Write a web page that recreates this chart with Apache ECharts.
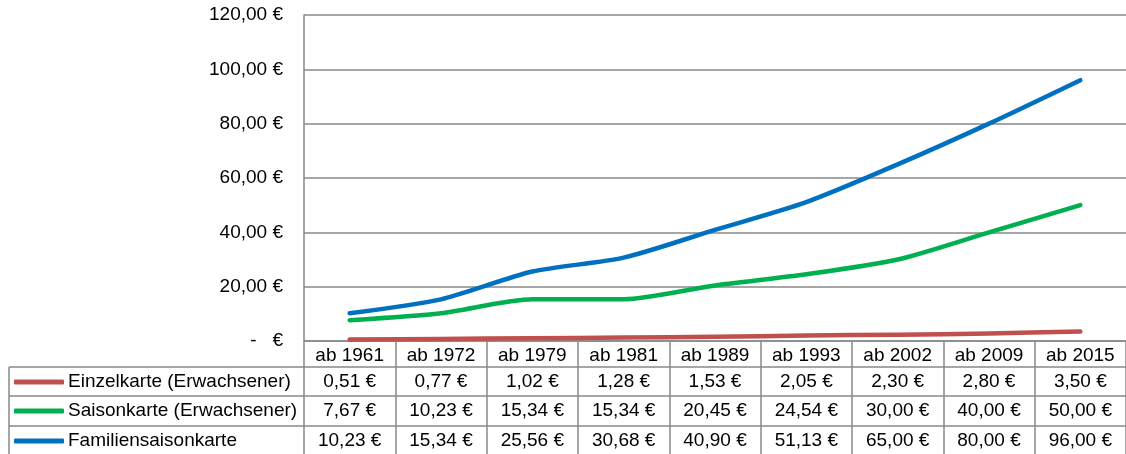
<!DOCTYPE html>
<html>
<head>
<meta charset="utf-8">
<script src="https://cdn.jsdelivr.net/npm/echarts@6/dist/echarts.min.js"></script>
<style>
  html, body { margin: 0; padding: 0; background: #fff; }
  #chart { width: 1126px; height: 454px; }
</style>
</head>
<body>
<div id="chart"></div>
<script>
// Price history: categories and series values
const categories = ['ab 1961', 'ab 1972', 'ab 1979', 'ab 1981', 'ab 1989', 'ab 1993', 'ab 2002', 'ab 2009', 'ab 2015'];
const einzelkarte = [0.51, 0.77, 1.02, 1.28, 1.53, 2.05, 2.30, 2.80, 3.50];
const saisonkarte = [7.67, 10.23, 15.34, 15.34, 20.45, 24.54, 30.00, 40.00, 50.00];
const familienkarte = [10.23, 15.34, 25.56, 30.68, 40.90, 51.13, 65.00, 80.00, 96.00];
const seriesNames = ['Einzelkarte (Erwachsener)', 'Saisonkarte (Erwachsener)', 'Familiensaisonkarte'];
const seriesColors = ['#C0504D', '#00B050', '#0070C0'];
const yTicks = [0, 20, 40, 60, 80, 100, 120];

const FONT = 'Liberation Sans, Arial, sans-serif';
const FS = 19;
const GRID_COLOR = '#898989';

function euro(v) {
  if (v === 0) return '-   €';
  return v.toFixed(2).replace('.', ',') + ' €';
}

const chart = echarts.init(document.getElementById('chart'), null, { renderer: 'canvas' });

// data table rows under the plot: one category axis per row
const rowOffsets = [26, 55, 85];
const rowValues = [einzelkarte, saisonkarte, familienkarte];
const rowCenters = [382, 411, 441];

const tableAxes = rowValues.map((vals, i) => ({
  type: 'category',
  gridIndex: 0,
  position: 'bottom',
  offset: rowOffsets[i],
  data: vals.map(euro),
  axisLine: { show: true, lineStyle: { color: GRID_COLOR, width: 1.5 } },
  axisTick: { show: false },
  axisLabel: { interval: 0, margin: 5, fontFamily: FONT, fontSize: FS, color: '#000' },
  splitLine: { show: false }
}));

// one legend entry per table row, serving as the row header
const legends = seriesNames.map((name, i) => ({
  orient: 'horizontal',
  left: 14,
  top: rowCenters[i] - 10,
  itemWidth: 50,
  itemHeight: 5,
  icon: 'roundRect',
  selectedMode: false,
  padding: 0,
  data: [name],
  textStyle: { fontFamily: FONT, fontSize: FS, color: '#000', lineHeight: 20, padding: [0, 0, 0, -1] }
}));

const option = {
  animation: false,
  backgroundColor: '#fff',
  textStyle: { fontFamily: FONT },
  grid: { left: 304, right: 0, top: 15, bottom: 113, containLabel: false },
  legend: legends,
  xAxis: [{
    type: 'category',
    gridIndex: 0,
    position: 'bottom',
    data: categories,
    boundaryGap: true,
    axisLine: { show: true, lineStyle: { color: GRID_COLOR, width: 1.5 } },
    axisTick: { show: true, interval: 0, length: 120, lineStyle: { color: GRID_COLOR, width: 1.5 } },
    axisLabel: { interval: 0, margin: 5, fontFamily: FONT, fontSize: FS, color: '#000' },
    splitLine: { show: false }
  }].concat(tableAxes),
  yAxis: {
    type: 'value',
    min: yTicks[0],
    max: yTicks[yTicks.length - 1],
    interval: 20,
    axisLine: { show: true, lineStyle: { color: GRID_COLOR, width: 1.5 } },
    axisTick: { show: false },
    axisLabel: { margin: 21, fontFamily: FONT, fontSize: FS, color: '#000', formatter: euro },
    splitLine: { show: true, lineStyle: { color: GRID_COLOR, width: 1.5 } }
  },
  series: [einzelkarte, saisonkarte, familienkarte].map((vals, i) => ({
    name: seriesNames[i],
    type: 'line',
    xAxisIndex: 0,
    yAxisIndex: 0,
    data: vals,
    smooth: 0.25,
    showSymbol: false,
    symbol: 'none',
    color: seriesColors[i],
    lineStyle: { width: 4.5, color: seriesColors[i], cap: 'round', join: 'round' },
    z: 3
  })),
  // borders of the row-label column of the data table
  graphic: [
    { type: 'line', shape: { x1: 9, y1: 367, x2: 304, y2: 367 }, style: { stroke: GRID_COLOR, lineWidth: 1.5 } },
    { type: 'line', shape: { x1: 9, y1: 396, x2: 304, y2: 396 }, style: { stroke: GRID_COLOR, lineWidth: 1.5 } },
    { type: 'line', shape: { x1: 9, y1: 426, x2: 304, y2: 426 }, style: { stroke: GRID_COLOR, lineWidth: 1.5 } },
    { type: 'line', shape: { x1: 9, y1: 367, x2: 9, y2: 454 }, style: { stroke: GRID_COLOR, lineWidth: 1.5 } }
  ]
};

chart.setOption(option);
</script>
</body>
</html>
